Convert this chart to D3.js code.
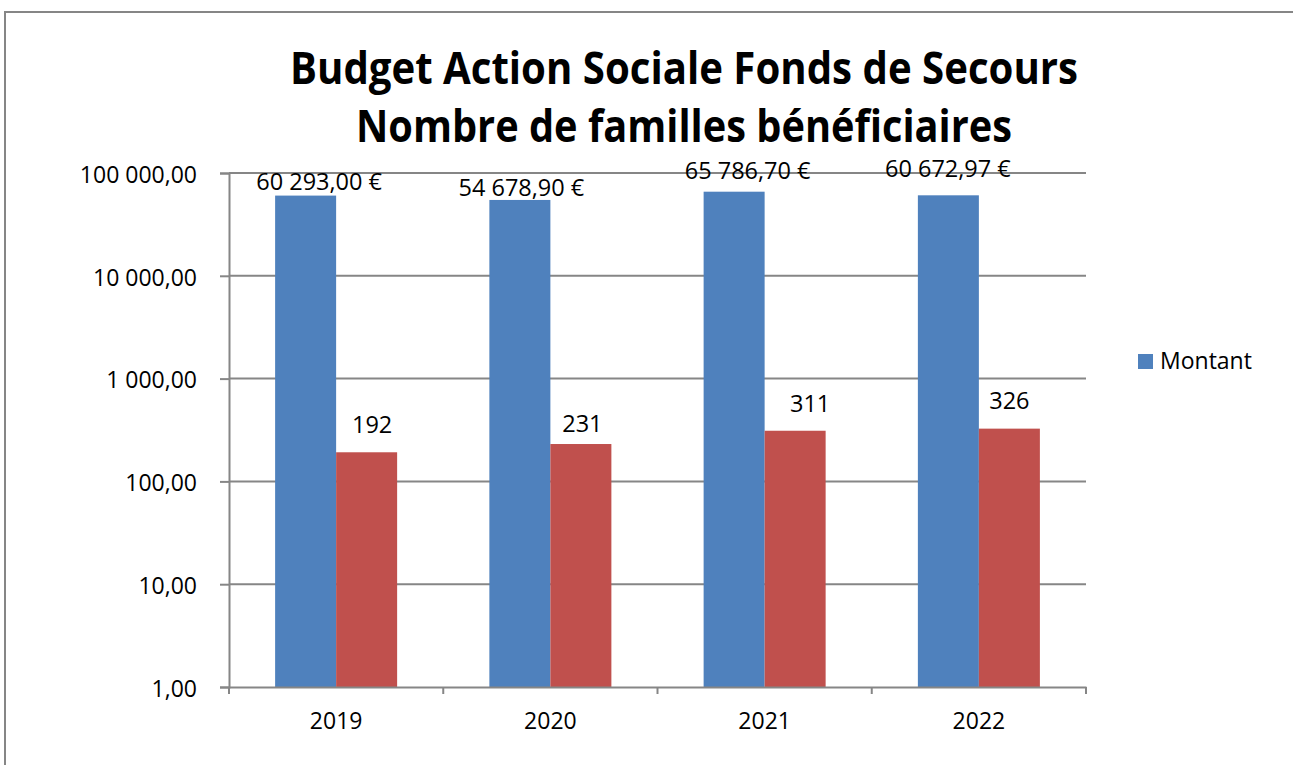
<!DOCTYPE html>
<html>
<head>
<meta charset="utf-8">
<script src="https://cdn.jsdelivr.net/npm/d3@7"></script>
<style>
  html, body { margin: 0; padding: 0; background: #fff; }
  svg { display: block; }
  text { font-family: "Open Sans", "Noto Sans", sans-serif; fill: #000; }
</style>
</head>
<body>
<svg id="chart" width="1293" height="765"></svg>
<script>
// ---- data ----
const years = ["2019", "2020", "2021", "2022"];
const montant = [60293.00, 54678.90, 65786.70, 60672.97];
const familles = [192, 231, 311, 326];
const yTicks = [1, 10, 100, 1000, 10000, 100000];
const titleLines = ["Budget Action Sociale Fonds de Secours", "Nombre de familles bénéficiaires"];
const legendLabel = "Montant";

// ---- layout ----
const W = 1293, H = 765;
const plot = { left: 229, right: 1086, top: 173, bottom: 687 };
const gridColor = "#868686";
const colors = { montant: "#4F81BD", familles: "#C0504D" };
// hand-placed label nudges (dx, dy from bar centre / bar top)
const montantNudge = [[13.5, -5.5], [1.5, -4], [13.5, -13], [-0.5, -18.5]];
const famillesNudge = [[5.5, -19], [1.5, -12.5], [15, -19], [0, -19.5]];

const svg = d3.select("#chart");

// outer frame
svg.append("path")
  .attr("d", `M5,${H} V12 H${W}`)
  .attr("fill", "none")
  .attr("stroke", gridColor)
  .attr("stroke-width", 2);

// title
const title = svg.append("g");
const titleSpec = [
  { y: 84, len: 788 },
  { y: 142, len: 656 }
];
titleLines.forEach((t, i) => {
  title.append("text")
    .attr("x", 684)
    .attr("y", titleSpec[i].y)
    .attr("text-anchor", "middle")
    .attr("font-size", 45)
    .attr("font-weight", "bold")
    .attr("textLength", titleSpec[i].len)
    .attr("lengthAdjust", "spacingAndGlyphs")
    .text(t);
});

// scales
const y = d3.scaleLog().domain([1, 100000]).range([plot.bottom, plot.top]);
const x = d3.scaleBand().domain(years).range([plot.left, plot.right]).paddingInner(0).paddingOuter(0);
const xSub = d3.scaleBand().domain(["montant", "familles"]).range([0, x.bandwidth()])
  .paddingInner(0).paddingOuter(0.756);

const fmtAxis = v => {
  const s = d3.format(",.2f")(v);
  return s.replace(/,/g, " ").replace(".", ",");
};
const fmtEuro = v => fmtAxis(v) + " €";

// horizontal gridlines
svg.append("g")
  .selectAll("line")
  .data(yTicks.filter(d => d > 1))
  .join("line")
  .attr("x1", plot.left).attr("x2", plot.right)
  .attr("y1", d => y(d)).attr("y2", d => y(d))
  .attr("stroke", gridColor).attr("stroke-width", 2);

// bars
const rows = years.map((yr, i) => ({ yr, i, montant: montant[i], familles: familles[i] }));
const barsG = svg.append("g");
["montant", "familles"].forEach(key => {
  barsG.selectAll(`rect.${key}`)
    .data(rows)
    .join("rect")
    .attr("class", key)
    .attr("x", d => x(d.yr) + xSub(key))
    .attr("width", xSub.bandwidth())
    .attr("y", d => y(d[key]))
    .attr("height", d => y(1) - y(d[key]))
    .attr("fill", colors[key]);
});

// y axis
const yAxis = d3.axisLeft(y)
  .tickValues(yTicks)
  .tickFormat(fmtAxis)
  .tickSize(9)
  .tickPadding(23);
const gy = svg.append("g")
  .attr("transform", `translate(${plot.left},0)`)
  .call(yAxis);
gy.select(".domain").attr("stroke", gridColor).attr("stroke-width", 2);
gy.selectAll(".tick line").attr("stroke", gridColor).attr("stroke-width", 2);
gy.selectAll(".tick text")
  .attr("font-size", 23)
  .attr("font-family", "'Open Sans', sans-serif")
  .attr("fill", "#000")
  .attr("dy", "0.4em");

// x axis
const xAxis = d3.axisBottom(x).tickSize(0).tickPadding(26);
const gx = svg.append("g")
  .attr("transform", `translate(0,${plot.bottom})`)
  .call(xAxis);
gx.select(".domain").attr("stroke", gridColor).attr("stroke-width", 2);
gx.selectAll(".tick text")
  .attr("font-size", 23)
  .attr("font-family", "'Open Sans', sans-serif")
  .attr("fill", "#000");
// category boundary tick marks
const bounds = years.map(d => x(d)).concat([plot.right]);
gx.append("g")
  .selectAll("line")
  .data(bounds)
  .join("line")
  .attr("x1", d => d).attr("x2", d => d)
  .attr("y1", 0).attr("y2", 7)
  .attr("stroke", gridColor).attr("stroke-width", 2);

// value labels
const labels = svg.append("g").attr("font-size", 23.5).attr("text-anchor", "middle");
labels.selectAll("text.m")
  .data(rows)
  .join("text")
  .attr("class", "m")
  .attr("x", d => x(d.yr) + xSub("montant") + xSub.bandwidth() / 2 + montantNudge[d.i][0])
  .attr("y", d => y(d.montant) + montantNudge[d.i][1])
  .text(d => fmtEuro(d.montant));
labels.selectAll("text.f")
  .data(rows)
  .join("text")
  .attr("class", "f")
  .attr("x", d => x(d.yr) + xSub("familles") + xSub.bandwidth() / 2 + famillesNudge[d.i][0])
  .attr("y", d => y(d.familles) + famillesNudge[d.i][1])
  .text(d => d.familles);

// legend
const leg = svg.append("g").attr("transform", "translate(1138,354)");
leg.append("rect").attr("width", 15).attr("height", 15).attr("fill", colors.montant);
leg.append("text").attr("x", 22).attr("y", 14.5).attr("font-size", 23).text(legendLabel);
</script>
</body>
</html>
